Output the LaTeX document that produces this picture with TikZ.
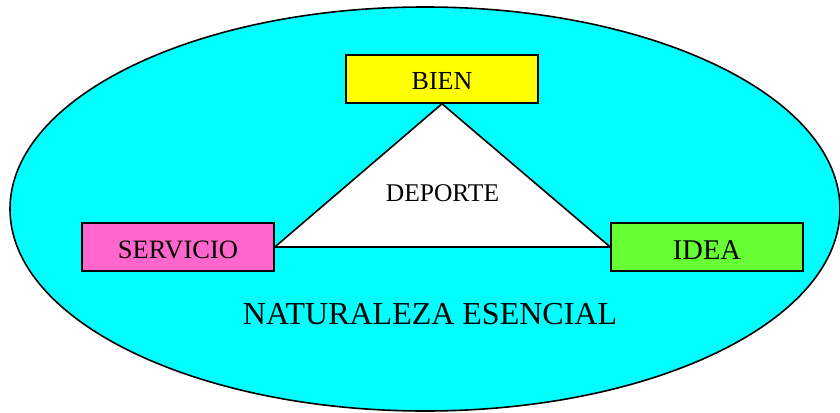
\documentclass[tikz,border=0pt]{standalone}
\usepackage{fontspec}
\setmainfont{Liberation Serif}
\definecolor{fondo}{HTML}{00FFFF}
\definecolor{amarillo}{HTML}{FFFF00}
\definecolor{rosa}{HTML}{FF66CC}
\definecolor{verde}{HTML}{66FF33}

\begin{document}
\begin{tikzpicture}[x=1pt,y=-1pt]
					\useasboundingbox (0,0) rectangle (840,412);
					\filldraw[fill=fondo,line width=1.6pt] (425,209) ellipse [x radius=415, y radius=202];
					\tikzstyle{caja}=[draw,line width=1.6pt,minimum width=192pt,minimum height=48pt,inner sep=0pt];
					\path (442,79) node[caja,fill=amarillo,text height=21pt] (bien) {\fontsize{26}{26}\selectfont BIEN};
					\path (178,247) node[caja,fill=rosa,text height=23pt] (servicio) {\fontsize{26.5}{26.5}\selectfont SERVICIO};
					\path (707,247) node[caja,fill=verde,text height=26pt] (idea) {\fontsize{28.5}{28.5}\selectfont IDEA};
					\filldraw[fill=white,line width=1.6pt,line join=round] (bien.south) -- (idea.west) -- (servicio.east) -- cycle;
					\path (442.5,193) node (deporte) {\fontsize{25.5}{25.5}\selectfont DEPORTE};
					\path (430,314) node (naturaleza) {\fontsize{32}{32}\selectfont NATURALEZA ESENCIAL};
\end{tikzpicture}
\end{document}
